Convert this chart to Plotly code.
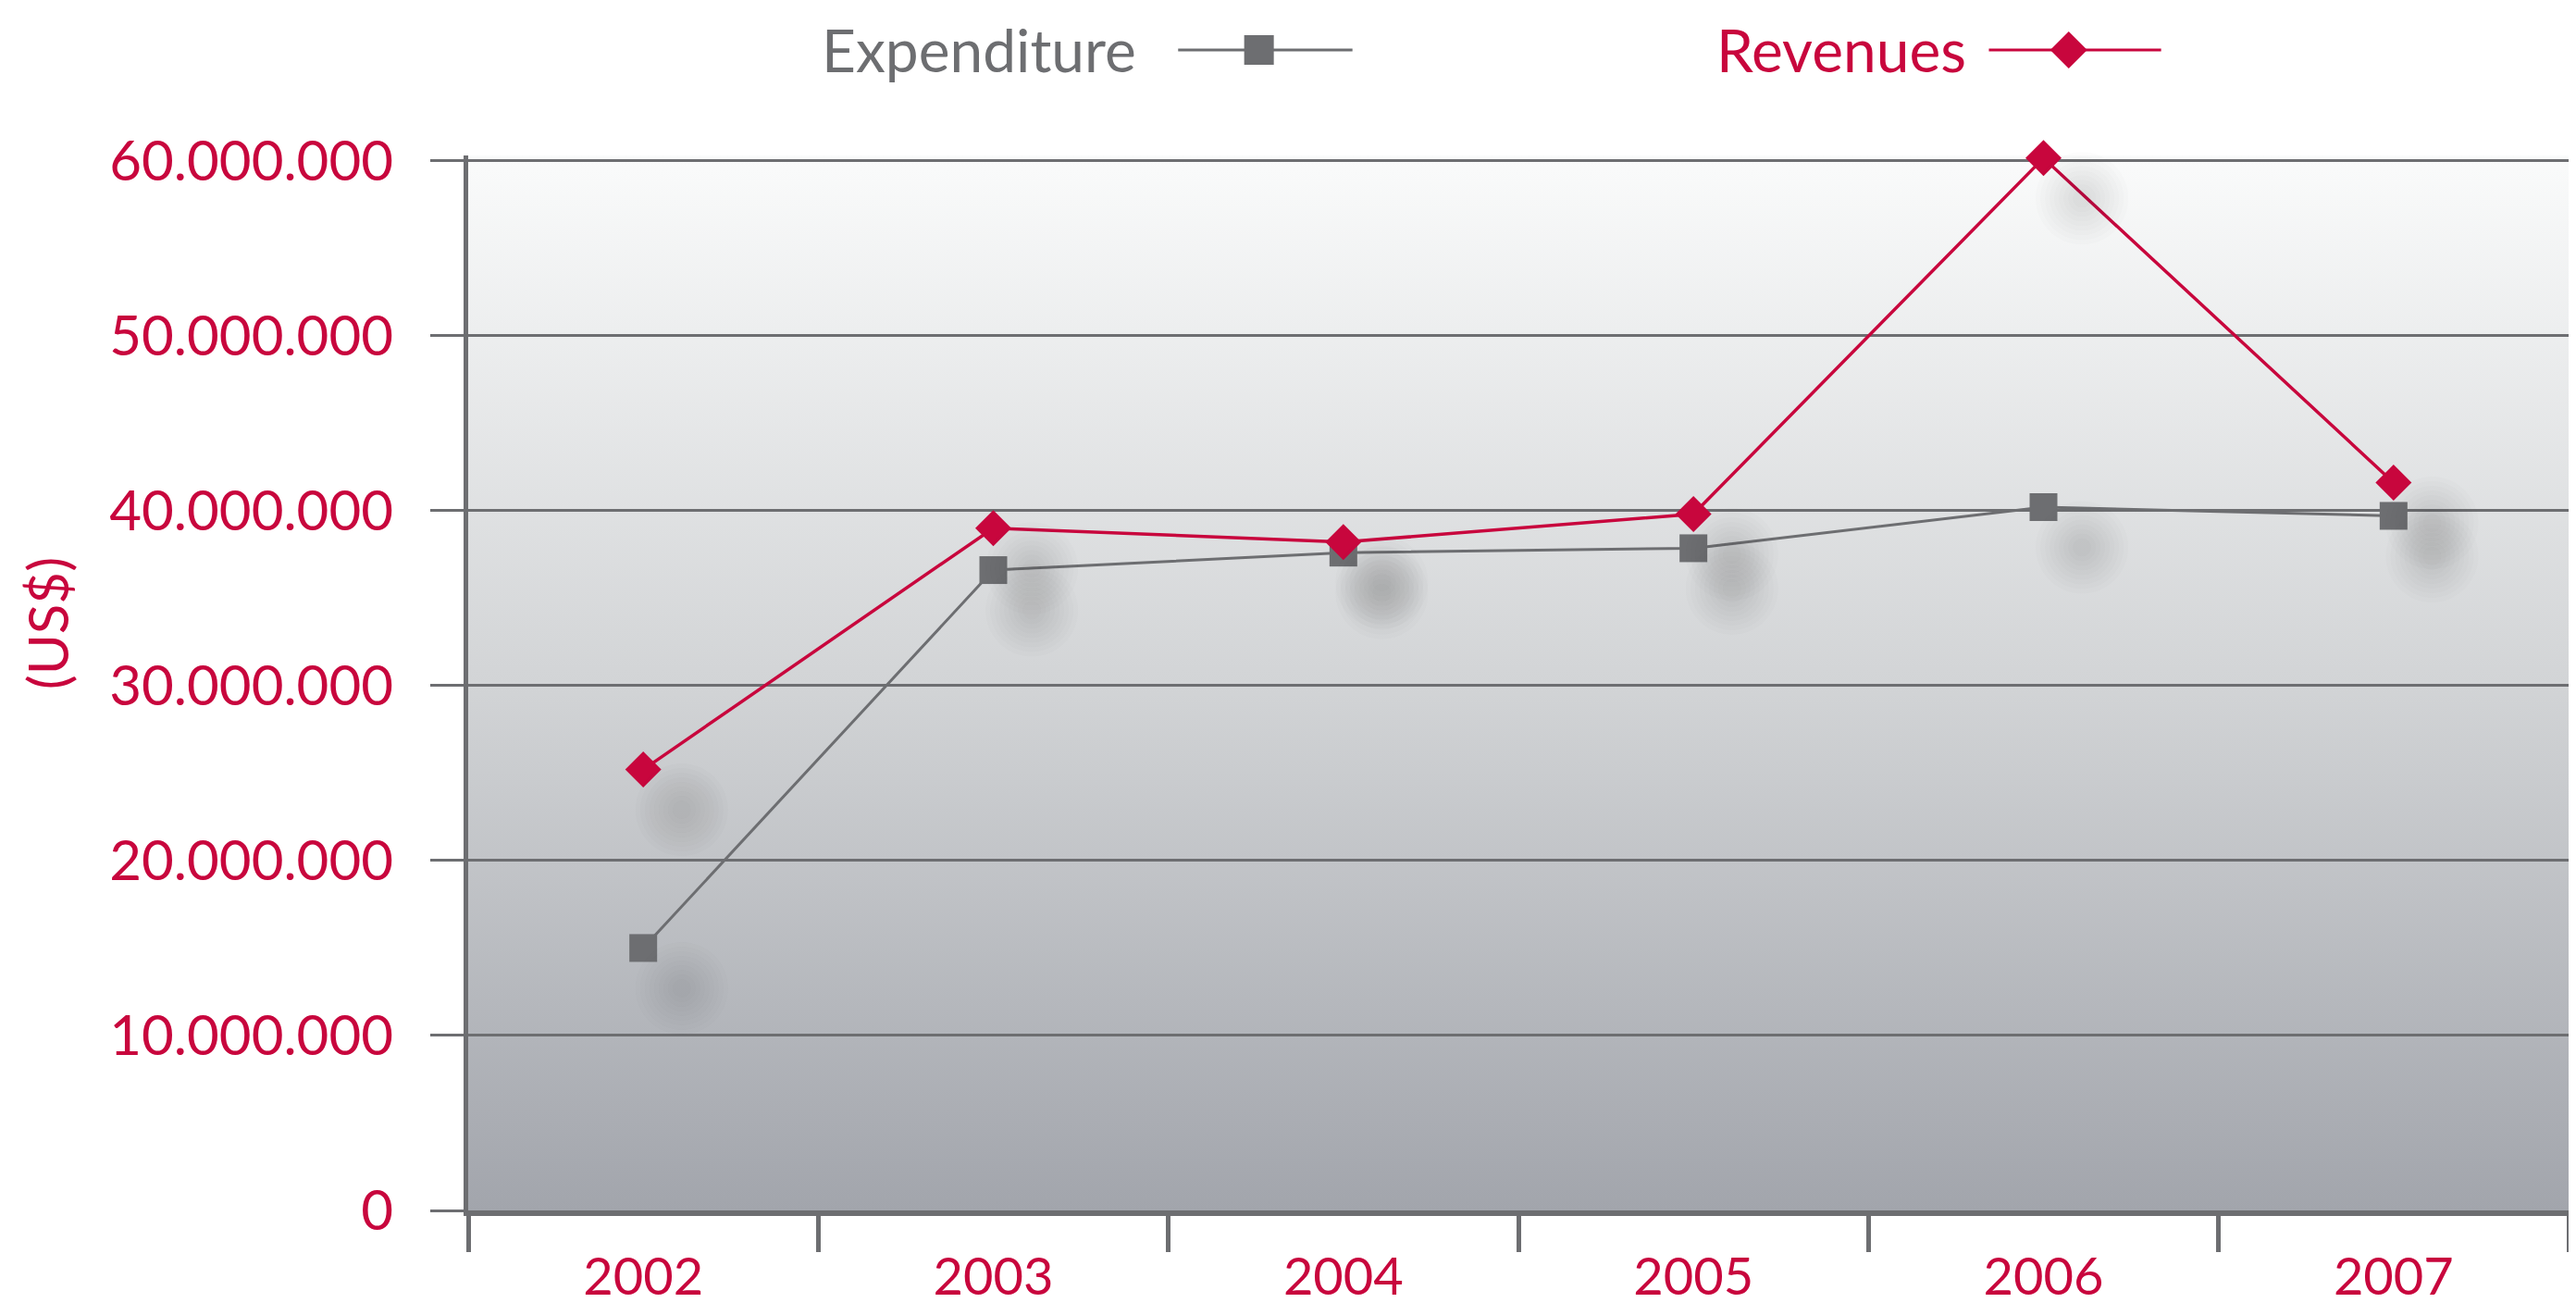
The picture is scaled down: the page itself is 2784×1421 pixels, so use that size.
import base64
import plotly.graph_objects as go

years = ["2002", "2003", "2004", "2005", "2006", "2007"]
expenditure = [15000000, 36600000, 37600000, 37850000, 40200000, 39700000]
revenues = [25200000, 39000000, 38200000, 39800000, 60150000, 41600000]
y_ticks = [0, 10000000, 20000000, 30000000, 40000000, 50000000, 60000000]

RED = "#c8063d"
GRAY = "#6d6e71"
FONT = "Lato"
Y_TOP = 60300000  # a bit of headroom so the 2006 marker is not hidden

# plot area background: vertical gradient as an svg image
svg = ('<svg xmlns="http://www.w3.org/2000/svg" width="100" height="100" preserveAspectRatio="none">'
       '<defs><linearGradient id="g" x1="0" y1="0" x2="0" y2="1">'
       '<stop offset="0" stop-color="#fafbfb"/><stop offset="0.5" stop-color="#d2d4d6"/>'
       '<stop offset="1" stop-color="#a2a5ac"/></linearGradient></defs>'
       '<rect width="100" height="100" fill="url(#g)"/></svg>')
bg_src = "data:image/svg+xml;base64," + base64.b64encode(svg.encode()).decode()

fig = go.Figure()

# soft shadows under the markers, drawn through slightly shifted axes
for size in range(100, 10, -10):
    for vals in (expenditure, revenues):
        fig.add_trace(go.Scatter(
            x=years, y=vals, mode="markers", xaxis="x2", yaxis="y2",
            marker=dict(symbol="circle", size=size, color="rgba(55,57,65,0.016)", line=dict(width=0)),
            hoverinfo="skip", showlegend=False, cliponaxis=False,
        ))

fig.add_trace(go.Scatter(
    x=years, y=expenditure, name="Expenditure", mode="lines+markers",
    line=dict(color=GRAY, width=3),
    marker=dict(symbol="square", size=30, color=GRAY),
    showlegend=False, cliponaxis=False,
))
fig.add_trace(go.Scatter(
    x=years, y=revenues, name="Revenues", mode="lines+markers",
    line=dict(color=RED, width=3.5),
    marker=dict(symbol="diamond", size=30, color=RED),
    showlegend=False, cliponaxis=False,
))

# legend drawn by hand: text on the left, symbol on the right
LY = 1.100
shapes = [
    dict(type="line", xref="paper", yref="paper", x0=0.338, x1=0.421, y0=LY, y1=LY,
         line=dict(color=GRAY, width=3)),
    dict(type="rect", xref="paper", yref="paper", xsizemode="pixel", ysizemode="pixel",
         xanchor=0.3765, yanchor=LY, x0=-16, x1=16, y0=-16, y1=16,
         fillcolor=GRAY, line=dict(width=0)),
    dict(type="line", xref="paper", yref="paper", x0=0.724, x1=0.806, y0=LY, y1=LY,
         line=dict(color=RED, width=3)),
    dict(type="path", xref="paper", yref="paper", xsizemode="pixel", ysizemode="pixel",
         xanchor=0.762, yanchor=LY, path="M 0,20 L 20,0 L 0,-20 L -20,0 Z",
         fillcolor=RED, line=dict(width=0)),
]

annotations = [
    dict(text="Expenditure", x=0.3190, y=LY, xref="paper", yref="paper", xanchor="right",
         yanchor="middle", showarrow=False, font=dict(family=FONT, size=64, color=GRAY)),
    dict(text="Revenues", x=0.7140, y=LY, xref="paper", yref="paper", xanchor="right",
         yanchor="middle", showarrow=False, font=dict(family=FONT, size=64, color=RED)),
    dict(text="(US$)", x=-0.2003, y=0.557, xref="paper", yref="paper", xanchor="center",
         yanchor="middle", textangle=-90, showarrow=False, font=dict(family=FONT, size=60, color=RED)),
]

fig.update_layout(
    width=2784, height=1421,
    margin=dict(l=498, r=16, t=160, b=121),
    paper_bgcolor="white", plot_bgcolor="rgba(0,0,0,0)",
    separators=",.",
    font=dict(family=FONT, size=60, color=RED),
    images=[dict(source=bg_src, xref="paper", yref="paper", x=0, y=1, sizex=1, sizey=1,
                 sizing="stretch", layer="below")],
    shapes=shapes,
    annotations=annotations,
    xaxis=dict(
        type="category", range=[-0.5, 5.5], tickson="boundaries",
        ticks="outside", ticklen=39, tickwidth=5, tickcolor=GRAY,
        showline=True, linecolor=GRAY, linewidth=6,
        showgrid=False, zeroline=False,
        tickfont=dict(family=FONT, size=56, color=RED), ticklabelstandoff=18,
    ),
    yaxis=dict(
        range=[0, Y_TOP], tickvals=y_ticks, tickformat=",d",
        ticks="outside", ticklen=36, tickwidth=3, tickcolor=GRAY,
        showline=True, linecolor=GRAY, linewidth=5,
        showgrid=True, gridcolor=GRAY, gridwidth=3, zeroline=False,
        tickfont=dict(family=FONT, size=60, color=RED), ticklabelstandoff=28,
    ),
    xaxis2=dict(type="category", overlaying="x", range=[-0.5 - 0.11, 5.5 - 0.11],
                visible=False, categoryarray=years),
    yaxis2=dict(overlaying="y", range=[0 + 2300000, Y_TOP + 2300000], visible=False),
)

fig.write_html("out.html")
